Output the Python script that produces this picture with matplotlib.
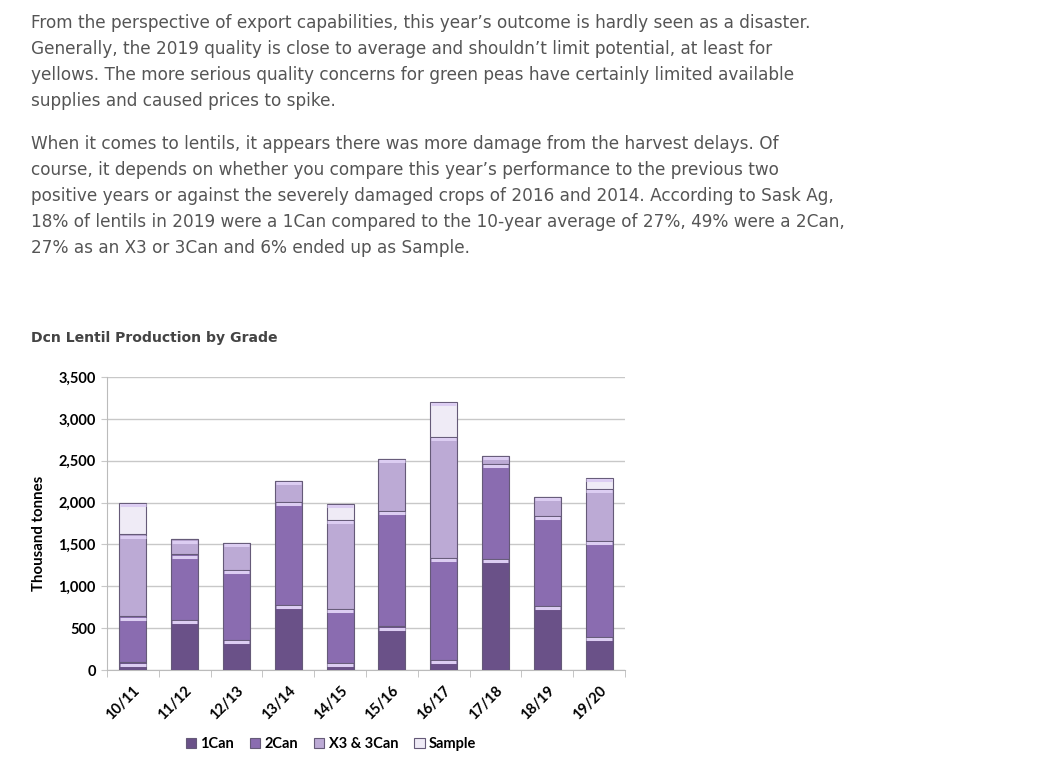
"""Dcn lentil production by grade, with the surrounding article text."""
import matplotlib.pyplot as plt
import numpy as np

W, H = 1050, 780

seasons = ["10/11", "11/12", "12/13", "13/14", "14/15",
           "15/16", "16/17", "17/18", "18/19", "19/20"]
can1 = [90, 600, 360, 780, 80, 520, 120, 1330, 770, 400]
can2 = [550, 780, 840, 1230, 650, 1380, 1220, 1130, 1070, 1140]
x3_can3 = [980, 180, 320, 250, 1060, 620, 1440, 100, 230, 620]
sample = [380, 0, 0, 0, 190, 0, 420, 0, 0, 130]

grades = ["1Can", "2Can", "X3 & 3Can", "Sample"]
colors = ["#6a5188", "#8a6cb0", "#bcaad5", "#efebf6"]

para1 = [
    "From the perspective of export capabilities, this year’s outcome is hardly seen as a disaster.",
    "Generally, the 2019 quality is close to average and shouldn’t limit potential, at least for",
    "yellows. The more serious quality concerns for green peas have certainly limited available",
    "supplies and caused prices to spike.",
]
para2 = [
    "When it comes to lentils, it appears there was more damage from the harvest delays. Of",
    "course, it depends on whether you compare this year’s performance to the previous two",
    "positive years or against the severely damaged crops of 2016 and 2014. According to Sask Ag,",
    "18% of lentils in 2019 were a 1Can compared to the 10-year average of 27%, 49% were a 2Can,",
    "27% as an X3 or 3Can and 6% ended up as Sample.",
]

fig = plt.figure(figsize=(W / 100, H / 100), dpi=100)


def fx(px):
    return px / W


def fy(py):
    return 1 - py / H


# article text
body = dict(fontsize=12.2, color="#555555", family="DejaVu Sans", va="baseline")
for i, line in enumerate(para1):
    fig.text(fx(31), fy(28 + 26 * i), line, **body)
for i, line in enumerate(para2):
    fig.text(fx(31), fy(149 + 26 * i), line, **body)

fig.text(fx(31), fy(342), "Dcn Lentil Production by Grade", fontsize=10.1,
         fontweight="bold", color="#444444", family="DejaVu Sans", va="baseline")

ax = fig.add_axes([fx(107), fy(670), fx(625) - fx(107), fy(377) - fy(670)])

lab = dict(family="Lato", weight="bold", size=10.5)

x = np.arange(len(seasons))
series = [np.array(s, dtype=float) for s in (can1, can2, x3_can3, sample)]
bottom = np.zeros(len(seasons))
for vals, name, col in zip(series, grades, colors):
    ax.bar(x, vals, width=0.52, bottom=bottom, color=col, edgecolor="#655a78",
           linewidth=0.8, label=name, zorder=3)
    tops = bottom + vals
    shown = vals > 0
    # light bevel highlight just under the top of each segment
    ax.hlines(tops[shown] - 26, x[shown] - 0.245, x[shown] + 0.245,
              color="#dccdf2", linewidth=2.2, zorder=4)
    bottom = tops

ax.set_xlim(-0.5, len(seasons) - 0.5)
ax.set_ylim(0, 3500)
ax.set_yticks(np.arange(0, 3501, 500))
ax.set_yticklabels([f"{v:,}" for v in range(0, 3501, 500)], **lab)
ax.yaxis.grid(True, color="#c8c8c8", linewidth=1, zorder=0)
ax.tick_params(axis="y", length=4, color="#c8c8c8", pad=4)

ax.set_xticks(x)
ax.set_xticklabels(seasons, rotation=45, ha="right", va="top",
                   rotation_mode="anchor", **lab)
ax.tick_params(axis="x", length=0, pad=10)
ax.set_xticks(np.arange(-0.5, len(seasons)), minor=True)
ax.tick_params(axis="x", which="minor", length=5, color="#bbbbbb")

for side in ("top", "right"):
    ax.spines[side].set_visible(False)
ax.spines["left"].set_color("#bbbbbb")
ax.spines["bottom"].set_color("#bbbbbb")

ax.set_ylabel("Thousand tonnes", family="Lato", weight="bold", size=10.8)
ax.yaxis.set_label_coords(-0.118, 0.468)

# legend sits a little left of the plot centre, as in the source image
leg = ax.legend(loc="center", bbox_to_anchor=(fx(331), fy(744)),
                bbox_transform=fig.transFigure, ncol=4,
                frameon=False, handlelength=0.7, handleheight=0.7,
                handletextpad=0.3, columnspacing=1.1, prop=lab)

fig.savefig("out.png", dpi=100)
